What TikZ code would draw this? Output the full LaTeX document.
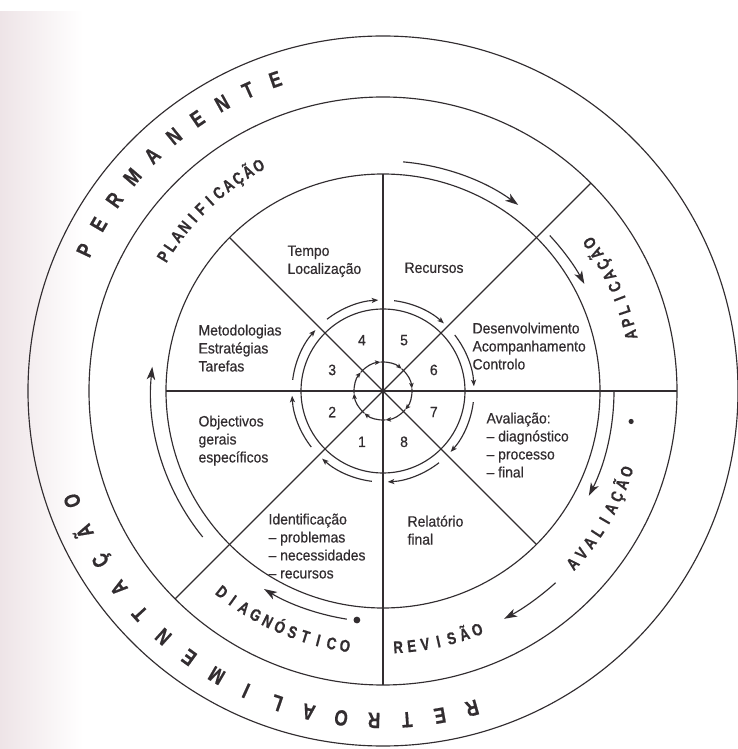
\documentclass[tikz,border=0pt]{standalone}
\usepackage{fontspec}
\setmainfont{Liberation Sans}
\newfontfamily\bodyfont{Liberation Sans}[FakeStretch=0.93,FakeBold=0.5]
\newfontfamily\ringfont{Liberation Sans Bold}[FakeStretch=0.78,FakeBold=0.6]
\usetikzlibrary{arrows.meta}
\definecolor{ink}{RGB}{50,45,48}
\definecolor{paper}{RGB}{238,228,231}
\newcommand\arcletters[6]{%
  \foreach \l [count=\i from 0] in {#6}{%
    \pgfmathsetmacro\ang{#3+(#4)*\i}%
    \node[anchor=base, inner sep=0pt, rotate=\ang+(#5)] (#1\i) at (\ang:#2) {\l};
  }}
\tikzset{
  txt/.style={anchor=north west, inner sep=0pt, align=left, font=\bodyfont\fontsize{15}{18}\selectfont},
  num/.style={inner sep=0pt, font=\bodyfont\fontsize{15}{18}\selectfont},
  ringlbl/.style={font=\ringfont\fontsize{17}{19}\selectfont},
  outerlbl/.style={font=\ringfont\fontsize{22}{25}\selectfont},
  bigarrow/.style={-{Stealth[length=13pt,width=8.5pt,inset=3.5pt]}},
  smallarrow/.style={-{Stealth[length=6.5pt,width=5pt,inset=1.5pt]}},
  tinyarrow/.style={-{Stealth[length=5.5pt,width=4.5pt,inset=1.2pt]}}
}
\begin{document}
\begin{tikzpicture}[x=1pt,y=1pt,line width=1.15pt,color=ink]
% background
\fill[white] (-383,-358) rectangle (354,391);
\shade[left color=paper,right color=white] (-383,-358) rectangle (-300,379);
\useasboundingbox (-383,-358) rectangle (354,391);
\coordinate (c) at (0,0);
% circles
\draw (c) circle[radius=82];
\draw (c) circle[radius=217];
\draw (c) circle[radius=294];
\draw (c) circle[radius=355];
% radial lines
\draw (180:217) -- (0:294);
\draw (90:217) -- (270:294);
\draw (135:217) -- (315:217);
\draw (45:294) -- (225:294);
% tiny circle with arrowheads
\foreach \k in {0,...,7}
  \draw[tinyarrow] ({50-45*\k}:29) arc[start angle={50-45*\k}, end angle={5-45*\k}, radius=29];
% arrows around number circle
\foreach \k in {0,...,7}
  \draw[smallarrow] ({173-45*\k}:91) arc[start angle={173-45*\k}, end angle={138-45*\k}, radius=91];
% numbers
\node[num] (n1) at (247.5:55) {1};
\node[num] (n2) at (202.5:55) {2};
\node[num] (n3) at (157.5:55) {3};
\node[num] (n4) at (112.5:55) {4};
\node[num] (n5) at (67.5:55) {5};
\node[num] (n6) at (22.5:55) {6};
\node[num] (n7) at (-22.5:55) {7};
\node[num] (n8) at (-67.5:55) {8};
% sector texts
\node[txt] (tempo) at (-96,146) {Tempo\\Localização};
\node[txt] (recursos) at (21,129) {Recursos};
\node[txt] (desenv) at (89,69) {Desenvolvimento\\Acompanhamento\\Controlo};
\node[txt] (metod) at (-185,67) {Metodologias\\Estratégias\\Tarefas};
\node[txt] (object) at (-185,-24) {Objectivos\\gerais\\específicos};
\node[txt] (aval) at (103,-21) {Avaliação:\\– diagnóstico\\– processo\\– final};
\node[txt] (ident) at (-115,-122) {Identificação\\– problemas\\– necessidades\\– recursos};
\node[txt] (relat) at (24,-124) {Relatório\\final};
% ring arrows
\draw[bigarrow] (85:230) arc[start angle=85, end angle=54, radius=230];
\draw[bigarrow] (43:228) arc[start angle=43, end angle=28, radius=228];
\draw[bigarrow] (0:231) arc[start angle=0, end angle=-27, radius=231];
\draw[bigarrow] (-48:258) arc[start angle=-48, end angle=-62, radius=258];
\draw[bigarrow] (261:231) arc[start angle=261, end angle=239, radius=231];
\draw[bigarrow] (219:232) arc[start angle=219, end angle=174, radius=232];
\fill (263.5:230.5) circle[radius=3.4];
\fill (-7:250) circle[radius=2.6];
% ring labels
\begin{scope}[ringlbl]
\arcletters{pl}{251.5}{148.5}{-2.69}{-90}{P,L,A,N,I,F,I,C,A,Ç,Ã,O}
\arcletters{ap}{260}{12.8}{2.85}{90}{A,P,L,I,C,A,Ç,Ã,O}
\arcletters{av}{262.5}{-42.3}{3.0}{90}{A,V,A,L,I,A,Ç,Ã,O}
\arcletters{rv}{262.5}{-86.6}{3.02}{90}{R,E,V,I,S,Ã,O}
\arcletters{dg}{263.5}{231.3}{3.02}{90}{D,I,A,G,N,Ó,S,T,I,C,O}
\end{scope}
\begin{scope}[outerlbl]
\arcletters{pe}{322}{154.7}{-5.07}{-90}{P,E,R,M,A,N,E,N,T,E}
\arcletters{re}{322}{285.7}{-5.75}{-90}{R,E,T,R,O,A,L,I,M,E,N,T,A,Ç,Ã,O}
\end{scope}
\end{tikzpicture}
\end{document}
